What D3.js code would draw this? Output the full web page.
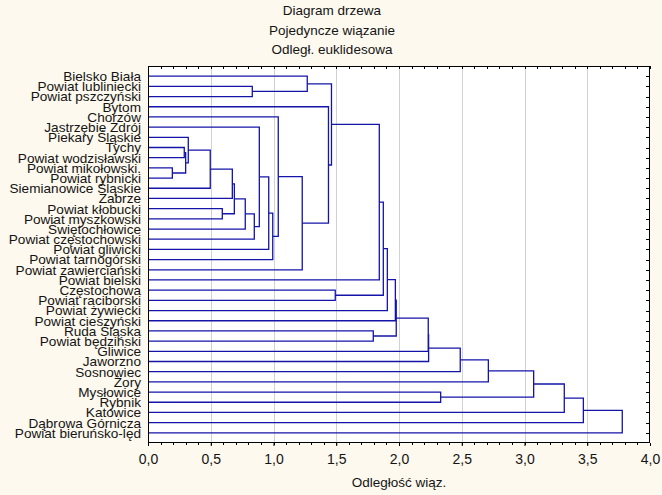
<!DOCTYPE html>
<html>
<head>
<meta charset="utf-8">
<script src="https://cdn.jsdelivr.net/npm/d3@7"></script>
<style>
  html, body { margin: 0; padding: 0; background: #fdf9ee; }
  svg { display: block; }
  text { font-family: Arial, "Liberation Sans", sans-serif; fill: #141414; }
</style>
</head>
<body>
<script>
// ---- Data ----
const titleLines = ["Diagram drzewa", "Pojedyncze wiązanie", "Odległ. euklidesowa"];
const xAxisTitle = "Odległość wiąz.";

// Leaves, top to bottom
const leaves = [
  "Bielsko Biała", "Powiat lubliniecki", "Powiat pszczyński", "Bytom", "Chorzów",
  "Jastrzębie Zdrój", "Piekary Śląskie", "Tychy", "Powiat wodzisławski", "Powiat mikołowski.",
  "Powiat rybnicki", "Siemianowice Śląskie", "Zabrze", "Powiat kłobucki", "Powiat myszkowski",
  "Świętochłowice", "Powiat częstochowski", "Powiat gliwicki", "Powiat tarnogórski", "Powiat zawierciański",
  "Powiat bielski", "Częstochowa", "Powiat raciborski", "Powiat żywiecki", "Powiat cieszyński",
  "Ruda Śląska", "Powiat będziński", "Gliwice", "Jaworzno", "Sosnowiec",
  "Żory", "Mysłowice", "Rybnik", "Katowice", "Dąbrowa Górnicza",
  "Powiat bieruńsko-lęd"
];

// Merges (linkage): ids 0..35 are leaves, merge k creates id 36+k
const mergeA = [9, 7, 37, 6, 39, 13, 40, 42, 43, 44, 5, 46, 47, 4, 1, 0, 49, 3, 51, 21, 54, 56, 57, 58, 25, 59, 61, 62, 63, 64, 31, 65, 67, 68, 69];
const mergeB = [10, 8, 36, 38, 11, 14, 12, 41, 15, 16, 45, 17, 18, 48, 2, 50, 19, 52, 53, 22, 20, 55, 23, 24, 26, 60, 27, 28, 29, 30, 32, 66, 33, 34, 35];
const mergeH = [0.194, 0.289, 0.300, 0.321, 0.496, 0.592, 0.672, 0.688, 0.775, 0.847, 0.887, 0.962, 0.994, 1.038, 0.831, 1.269, 1.229, 1.438, 1.462, 1.492, 1.843, 1.875, 1.907, 1.971, 1.795, 1.978, 2.233, 2.236, 2.488, 2.712, 2.332, 3.073, 3.317, 3.469, 3.779];

const xTicks = [0, 0.5, 1, 1.5, 2, 2.5, 3, 3.5, 4];
const xMax = 4;

// ---- Layout ----
const W = 662, H = 495;
const plot = { left: 148, right: 650, top: 66, bottom: 443 };

const svg = d3.select("body").append("svg").attr("width", W).attr("height", H);
svg.append("rect").attr("width", W).attr("height", H).attr("fill", "#fdf9ee");

const x = d3.scaleLinear().domain([0, xMax]).range([plot.left, plot.right]);
const y = d3.scalePoint().domain(leaves).range([plot.top, plot.bottom]).padding(1);

// plot background
svg.append("rect")
  .attr("x", plot.left).attr("y", plot.top)
  .attr("width", plot.right - plot.left).attr("height", plot.bottom - plot.top)
  .attr("fill", "#ffffff");

// gridlines
svg.append("g").selectAll("line")
  .data(xTicks.filter(t => t > 0 && t < xMax))
  .join("line")
  .attr("x1", d => Math.round(x(d)) + 0.5).attr("x2", d => Math.round(x(d)) + 0.5)
  .attr("y1", plot.top).attr("y2", plot.bottom)
  .attr("stroke", "#d2d2d6").attr("stroke-width", 1);

// dendrogram
const nodes = leaves.map(l => ({ y: y(l), h: 0 }));
const paths = [];
mergeA.forEach((a, k) => {
  const na = nodes[a], nb = nodes[mergeB[k]], h = mergeH[k];
  paths.push(`M${x(na.h)},${na.y}H${x(h)}V${nb.y}H${x(nb.h)}`);
  nodes.push({ y: (na.y + nb.y) / 2, h: h });
});
svg.append("g").selectAll("path")
  .data(paths)
  .join("path")
  .attr("d", d => d)
  .attr("fill", "none")
  .attr("stroke", "#1414a8")
  .attr("stroke-width", 1.3);

// plot border
svg.append("rect")
  .attr("x", plot.left + 0.5).attr("y", plot.top + 0.5)
  .attr("width", plot.right - plot.left - 1).attr("height", plot.bottom - plot.top - 1)
  .attr("fill", "none").attr("stroke", "#000").attr("stroke-width", 1);

// minor ticks (top inward, bottom outward)
const minor = d3.range(0, 41).map(i => i / 10);
svg.append("g").selectAll("line").data(minor).join("line")
  .attr("x1", d => Math.round(x(d)) + 0.5).attr("x2", d => Math.round(x(d)) + 0.5)
  .attr("y1", plot.top).attr("y2", plot.top + 3)
  .attr("stroke", "#000");
svg.append("g").selectAll("line").data(minor).join("line")
  .attr("x1", d => Math.round(x(d)) + 0.5).attr("x2", d => Math.round(x(d)) + 0.5)
  .attr("y1", plot.bottom).attr("y2", plot.bottom + 2)
  .attr("stroke", "#000");
// right ticks at each leaf, inward
svg.append("g").selectAll("line").data(leaves).join("line")
  .attr("x1", plot.right - 4).attr("x2", plot.right)
  .attr("y1", d => Math.round(y(d)) + 0.5).attr("y2", d => Math.round(y(d)) + 0.5)
  .attr("stroke", "#000");

// bottom axis
const fmt = d => d3.format(".1f")(d).replace(".", ",");
const xAxis = d3.axisBottom(x).tickValues(xTicks).tickFormat(fmt).tickSize(3).tickPadding(8);
const gx = svg.append("g").attr("transform", `translate(0,${plot.bottom})`).call(xAxis);
gx.select(".domain").remove();
gx.selectAll("text").attr("font-size", "14px").style("font-family", "Arial, 'Liberation Sans', sans-serif").attr("fill", "#141414");

// leaf labels
svg.append("g").selectAll("text").data(leaves).join("text")
  .attr("x", 141).attr("y", d => y(d)).attr("dy", "0.36em")
  .attr("text-anchor", "end").attr("font-size", "13.6px")
  .text(d => d);

// titles
svg.append("g").selectAll("text").data(titleLines).join("text")
  .attr("x", 332).attr("y", (d, i) => 15 + i * 19.5)
  .attr("text-anchor", "middle").attr("font-size", "13.5px")
  .text(d => d);

svg.append("text")
  .attr("x", (plot.left + plot.right) / 2).attr("y", 487)
  .attr("text-anchor", "middle").attr("font-size", "13.5px")
  .text(xAxisTitle);
</script>
</body>
</html>
